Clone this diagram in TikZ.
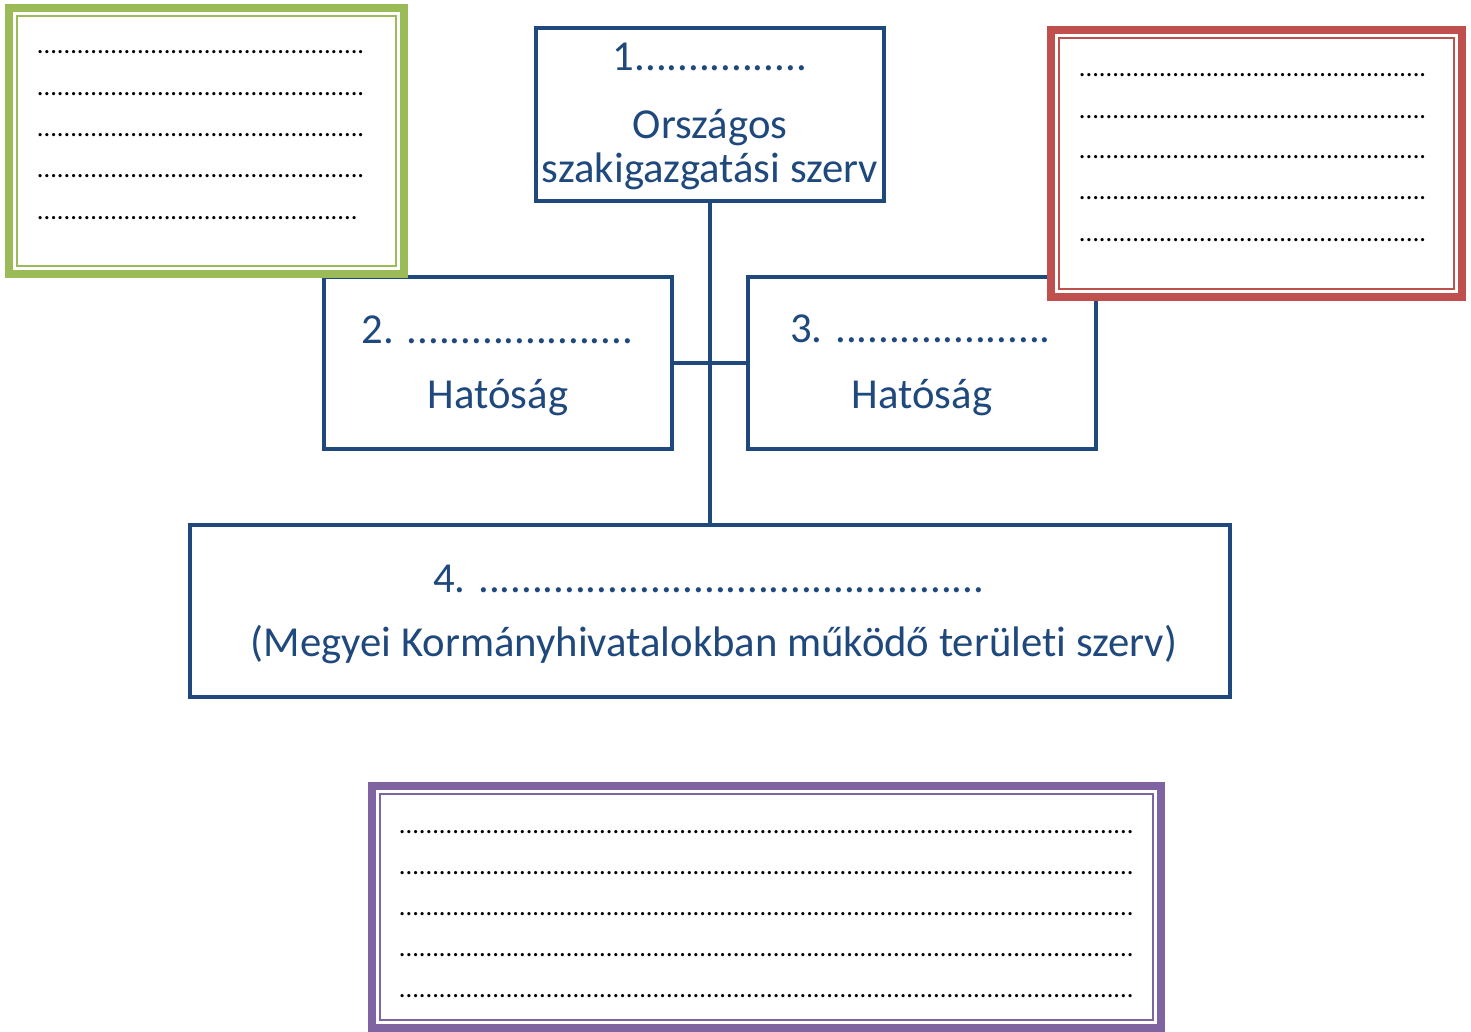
\documentclass[tikz,border=0pt]{standalone}
\usepackage{fontspec}
\setmainfont{Carlito}[Ligatures=NoCommon]
\ExplSyntaxOn
\cs_new:Npn \dotrep #1 { \prg_replicate:nn {#1} {.} }
\ExplSyntaxOff
\definecolor{boxblue}{HTML}{1F497D}
\definecolor{fgreen}{HTML}{9BBB59}
\definecolor{fred}{HTML}{C0504D}
\definecolor{fpurple}{HTML}{8064A2}
\tikzset{
  orgbox/.style={draw=boxblue, line width=4.5pt, fill=white, rectangle, inner sep=0pt, outer sep=0pt},
  link/.style={draw=boxblue, line width=4.5pt},
  btext/.style={anchor=base, inner sep=0pt, text=boxblue, font=\fontsize{42.7}{50}\selectfont},
  frame/.style={rectangle, line width=8pt, fill=white, inner sep=0pt, outer sep=0pt},
  innerline/.style={line width=2pt},
  dotrow/.style={anchor=base west, inner sep=0pt, text=black, font=\fontsize{26.5}{30}\selectfont}
}
\begin{document}
\begin{tikzpicture}[x=1pt, y=-1pt]
\useasboundingbox[fill=white] (0,0) rectangle (1471,1032);

% organisation boxes
\node[orgbox, minimum width=348pt, minimum height=173pt] (b1) at (710,114.5) {};
\node[orgbox, minimum width=348pt, minimum height=172pt] (b2) at (498,363) {};
\node[orgbox, minimum width=348pt, minimum height=172pt] (b3) at (922,363) {};
\node[orgbox, minimum width=1040pt, minimum height=172pt] (b4) at (710,611) {};

% connectors
\draw[link] (b1.south) -- (b4.north);
\draw[link] (b2.east) -- (b3.west);

% box texts
\node[btext] (t1a) at (710,71) {1................};
\node[btext] (t1b) at (710,139) {Országos};
\node[btext] (t1c) at (710,183) {szakigazgatási szerv};
\node[btext] (t2a) at (497.5,343) {2. \dotrep{21}};
\node[btext] (t2b) at (498,408) {Hatóság};
\node[btext] (t3a) at (920.5,342) {3. \dotrep{20}};
\node[btext] (t3b) at (922,408) {Hatóság};
\node[btext] (t4a) at (709,592) {4. \dotrep{47}};
\node[btext] (t4b) at (714,656) {(Megyei Kormányhivatalokban működő területi szerv)};

% green frame
\node[frame, draw=fgreen, minimum width=395pt, minimum height=266pt] (gf) at (206.5,141) {};
\draw[innerline, fgreen] ([shift={(8,8)}]gf.north west) rectangle ([shift={(-8,-8)}]gf.south east);
\foreach \yy/\n [count=\i] in {53.5/49, 96/49, 137/49, 178/49, 220/48}
  \node[dotrow] (gd\i) at (36.7,\yy) {\dotrep{\n}};

% red frame
\node[frame, draw=fred, minimum width=411pt, minimum height=267pt] (rf) at (1256.5,163.5) {};
\draw[innerline, fred] ([shift={(8,8)}]rf.north west) rectangle ([shift={(-8,-8)}]rf.south east);
\foreach \yy [count=\i] in {77, 118.5, 158.5, 200, 242}
  \node[dotrow] (rd\i) at (1078.7,\yy) {\dotrep{52}};

% purple frame
\node[frame, draw=fpurple, minimum width=789pt, minimum height=242pt] (pf) at (766.5,907) {};
\draw[innerline, fpurple] ([shift={(8,8)}]pf.north west) rectangle ([shift={(-8,-8)}]pf.south east);
\foreach \yy [count=\i] in {833, 874, 915, 956, 997}
  \node[dotrow] (pd\i) at (398.7,\yy) {\dotrep{110}};
\end{tikzpicture}
\end{document}
